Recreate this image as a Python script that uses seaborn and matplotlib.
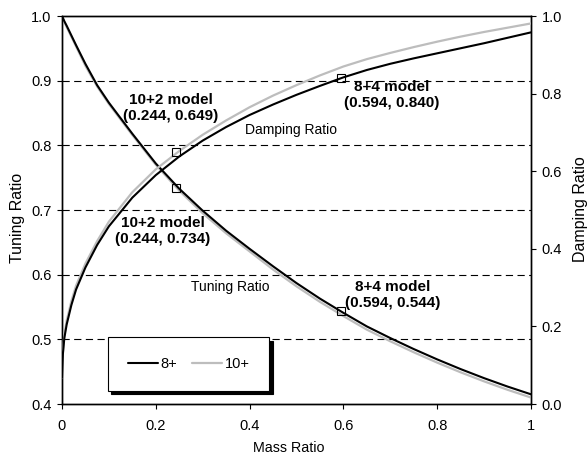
import numpy as np
import pandas as pd
import matplotlib
matplotlib.use('Agg')
import matplotlib.pyplot as plt
import seaborn as sns

# ── Values ───────────────────────────────────────────────────────────────────
mass = [0, 0.002, 0.005, 0.01, 0.02, 0.03, 0.05, 0.075, 0.1, 0.15, 0.2, 0.25,
        0.3, 0.35, 0.4, 0.45, 0.5, 0.55, 0.6, 0.65, 0.7, 0.75, 0.8, 0.85,
        0.9, 0.95, 1.0]

tuning_8 = [1.0, 0.997, 0.992, 0.985, 0.970, 0.955, 0.926, 0.893, 0.866,
            0.818, 0.772, 0.733, 0.699, 0.668, 0.640, 0.613, 0.587, 0.563,
            0.541, 0.520, 0.502, 0.485, 0.469, 0.454, 0.440, 0.427, 0.415]
tuning_10 = [1.0, 0.996, 0.991, 0.983, 0.968, 0.953, 0.923, 0.891, 0.864,
             0.816, 0.770, 0.730, 0.695, 0.664, 0.636, 0.608, 0.582, 0.558,
             0.536, 0.515, 0.497, 0.480, 0.464, 0.449, 0.435, 0.422, 0.410]

damping_8 = [0.067, 0.13, 0.17, 0.205, 0.255, 0.295, 0.352, 0.41, 0.458,
             0.532, 0.59, 0.638, 0.679, 0.714, 0.745, 0.772, 0.797, 0.82,
             0.842, 0.861, 0.877, 0.891, 0.904, 0.917, 0.930, 0.944, 0.958]
damping_10 = [0.067, 0.135, 0.178, 0.215, 0.265, 0.305, 0.362, 0.42, 0.47,
              0.546, 0.605, 0.652, 0.694, 0.731, 0.765, 0.795, 0.822, 0.847,
              0.870, 0.889, 0.905, 0.920, 0.934, 0.947, 0.959, 0.970, 0.981]

# model points (mass ratio, value)
pts_tuning = [(0.244, 0.734), (0.594, 0.544)]
pts_damping = [(0.244, 0.649), (0.594, 0.840)]

left_ticks = [0.4, 0.5, 0.6, 0.7, 0.8, 0.9, 1.0]
right_ticks = [0.0, 0.2, 0.4, 0.6, 0.8, 1.0]
x_ticks = [0, 0.2, 0.4, 0.6, 0.8, 1.0]
x_labels = ['0', '0.2', '0.4', '0.6', '0.8', '1']

# ── Style ────────────────────────────────────────────────────────────────────
sns.set_style('ticks')
plt.rcParams['font.family'] = ['Liberation Sans', 'DejaVu Sans']
plt.rcParams.update({
    'text.color': 'black',
    'axes.labelcolor': 'black',
    'axes.edgecolor': 'black',
    'axes.linewidth': 1.0,
    'xtick.color': 'black',
    'ytick.color': 'black',
    'xtick.major.size': 3.5,
    'ytick.major.size': 3.5,
})

BLACK = '#000000'
GREY = '#bdbdbd'

df = pd.DataFrame({'mass': mass, 't8': tuning_8, 't10': tuning_10,
                   'd8': damping_8, 'd10': damping_10})

fig, ax = plt.subplots(figsize=(5.87, 4.59), dpi=100)
fig.subplots_adjust(left=0.1056, right=0.9046, top=0.965, bottom=0.1198)
ax2 = ax.twinx()

# grid lines on the tuning axis
for v in left_ticks[1:-1]:
    ax.axhline(v, color='black', lw=0.8, ls=(0, (6.5, 4)), zorder=1)

sns.lineplot(data=df, x='mass', y='t10', ax=ax, color=GREY, lw=1.6, zorder=3)
sns.lineplot(data=df, x='mass', y='t8', ax=ax, color=BLACK, lw=1.5, zorder=4)
sns.lineplot(data=df, x='mass', y='d10', ax=ax2, color=GREY, lw=1.6, zorder=3)
sns.lineplot(data=df, x='mass', y='d8', ax=ax2, color=BLACK, lw=1.5, zorder=4)

ax.plot([p[0] for p in pts_tuning], [p[1] for p in pts_tuning], ls='none',
        marker='s', ms=5.5, mfc='none', mec='black', mew=0.8, zorder=5)
ax2.plot([p[0] for p in pts_damping], [p[1] for p in pts_damping], ls='none',
         marker='s', ms=5.5, mfc='none', mec='black', mew=0.8, zorder=5)

ax.set_xlim(0, 1)
ax.set_ylim(0.4, 1.0)
ax2.set_ylim(0.0, 1.0)
ax.set_xticks(x_ticks)
ax.set_xticklabels(x_labels)
ax.set_yticks(left_ticks)
ax.set_yticklabels([f'{v:.1f}' for v in left_ticks])
ax2.set_yticks(right_ticks)
ax2.set_yticklabels([f'{v:.1f}' for v in right_ticks])
ax.tick_params(axis='x', labelsize=10.5, pad=7.5)
ax.tick_params(axis='y', labelsize=10.5, pad=4)
ax2.tick_params(axis='y', labelsize=10.5, pad=4)

ax.set_xlabel('Mass Ratio', fontsize=10.3)
ax.set_ylabel('Tuning Ratio', fontsize=11.5)
ax2.set_ylabel('Damping Ratio', fontsize=11.5)
ax.xaxis.set_label_coords(0.484, -0.114)
ax.xaxis.label.set_va('center')
ax.yaxis.set_label_coords(-0.094, 0.479)
ax.yaxis.label.set_va('center')
ax2.yaxis.set_label_coords(1.106, 0.503)
ax2.yaxis.label.set_va('center')

# annotations
bold = dict(fontsize=11, fontweight='bold', ha='center', va='center',
            linespacing=1.2, zorder=6)
ax.text(0.232, 0.858, '10+2 model\n(0.244, 0.649)', **bold)
ax.text(0.215, 0.6675, '10+2 model\n(0.244, 0.734)', **bold)
ax.text(0.703, 0.878, '8+4 model\n(0.594, 0.840)', **bold)
ax.text(0.706, 0.5686, '8+4 model\n(0.594, 0.544)', **bold)
ax.text(0.488, 0.824, 'Damping Ratio', fontsize=10, ha='center', va='center')
ax.text(0.359, 0.581, 'Tuning Ratio', fontsize=10, ha='center', va='center')

# legend with a solid drop shadow
h8, = ax.plot([], [], color=BLACK, lw=1.5)
h10, = ax.plot([], [], color=GREY, lw=1.6)
leg = ax2.legend([h8, h10], ['8+', '10+'], loc='lower left',
                 bbox_to_anchor=(0.098, 0.034), borderaxespad=0, ncol=2,
                 fontsize=10.5, fancybox=False, framealpha=1,
                 handlelength=2.1, handletextpad=0.15, columnspacing=1.0,
                 borderpad=1.35,
                 shadow={'color': 'black', 'alpha': 1, 'ox': 2.4, 'oy': -2.4})
leg.get_frame().set_edgecolor('black')
leg.get_frame().set_linewidth(0.8)

ax.set_zorder(ax2.get_zorder() - 1)
ax.patch.set_visible(True)
ax2.patch.set_visible(False)

plt.savefig('out.png', dpi=100)
plt.close()
